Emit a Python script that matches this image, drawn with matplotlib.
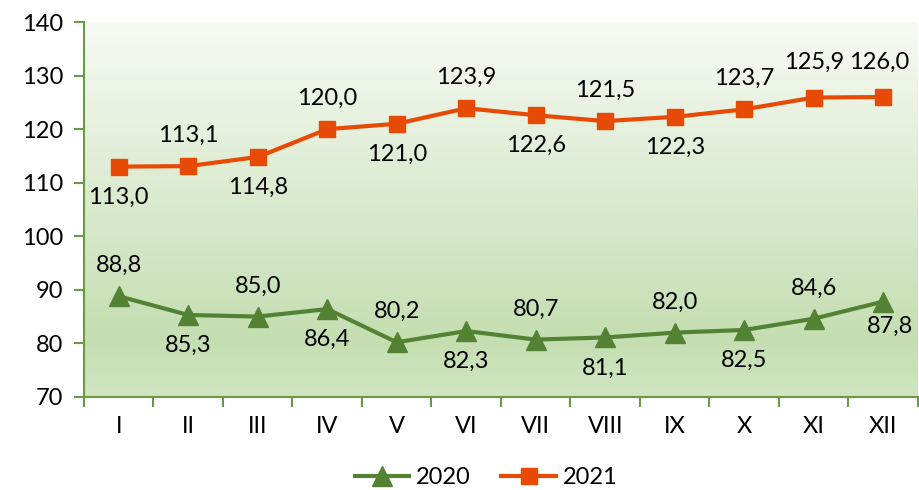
import numpy as np
import matplotlib.pyplot as plt
from matplotlib.colors import LinearSegmentedColormap

months = ["I", "II", "III", "IV", "V", "VI", "VII", "VIII", "IX", "X", "XI", "XII"]
y2020 = [88.8, 85.3, 85.0, 86.4, 80.2, 82.3, 80.7, 81.1, 82.0, 82.5, 84.6, 87.8]
y2021 = [113.0, 113.1, 114.8, 120.0, 121.0, 123.9, 122.6, 121.5, 122.3, 123.7, 125.9, 126.0]
# vi tri nhan: 1 = tren, -1 = duoi
pos2020 = [1, -1, 1, -1, 1, -1, 1, -1, 1, -1, 1, -1]
pos2021 = [-1, 1, -1, 1, -1, 1, -1, 1, -1, 1, 1, 1]

plt.rcParams['font.family'] = ['Lato', 'DejaVu Sans']
green = "#548235"
orange = "#e64a05"
axcol = "#6a9a45"
fs = 17

fig = plt.figure(figsize=(9.19, 4.90), dpi=100)
ax = fig.add_axes([0.0914, 0.19, 0.9075, 0.765])

# nen gradient
cmap = LinearSegmentedColormap.from_list("bg", [(0, "#f7faf4"), (0.85, "#c4deb1"), (1, "#d0e6c2")])
grad = np.linspace(0, 1, 256).reshape(-1, 1)
ax.imshow(grad, cmap=cmap, aspect="auto", extent=[0, 1, 0, 1],
          transform=ax.transAxes, zorder=0)

x = np.arange(1, 13)
ax.plot(x, y2020, color=green, lw=3, marker="^", ms=14, label="2020", zorder=3)
ax.plot(x, y2021, color=orange, lw=3, marker="s", ms=12, label="2021", zorder=3)

def fmt(v):
    return f"{v:.1f}".replace(".", ",")

for xi, v, p in zip(x, y2020, pos2020):
    if xi == 12:
        ax.annotate(fmt(v), (xi, v), xytext=(-12, -18), textcoords="offset points",
                    ha="left", va="center", fontsize=fs)
        continue
    ax.annotate(fmt(v), (xi, v), xytext=(0, 22 * p), textcoords="offset points",
                ha="center", va="center", fontsize=fs)
for xi, v, p in zip(x, y2021, pos2021):
    dx = -3 if xi == 12 else 0
    ax.annotate(fmt(v), (xi, v), xytext=(dx, 22 * p + (3 if xi >= 11 else 0)),
                textcoords="offset points", ha="center", va="center", fontsize=fs)

ax.set_xlim(0.5, 12.5)
ax.set_ylim(70, 140)
ax.set_yticks(range(70, 141, 10))
ax.set_xticks(np.arange(0.5, 13, 1))
ax.set_xticklabels([])
ax.set_xticks(x, minor=True)
ax.set_xticklabels(months, minor=True)
ax.tick_params(axis="x", which="minor", length=0, pad=14, labelsize=fs)
ax.tick_params(axis="x", which="major", length=7, color=axcol, width=1.5)
ax.tick_params(axis="y", length=7, color=axcol, width=1.5, labelsize=fs, pad=8)

for s in ["top", "right"]:
    ax.spines[s].set_visible(False)
for s in ["left", "bottom"]:
    ax.spines[s].set_color(axcol)
    ax.spines[s].set_linewidth(1.5)

fig.legend(loc="lower center", bbox_to_anchor=(0.529, -0.04), ncol=2, frameon=False,
           fontsize=fs, handlelength=2.3, columnspacing=1.3, handletextpad=0.3)

fig.savefig("out.png", dpi=100)
